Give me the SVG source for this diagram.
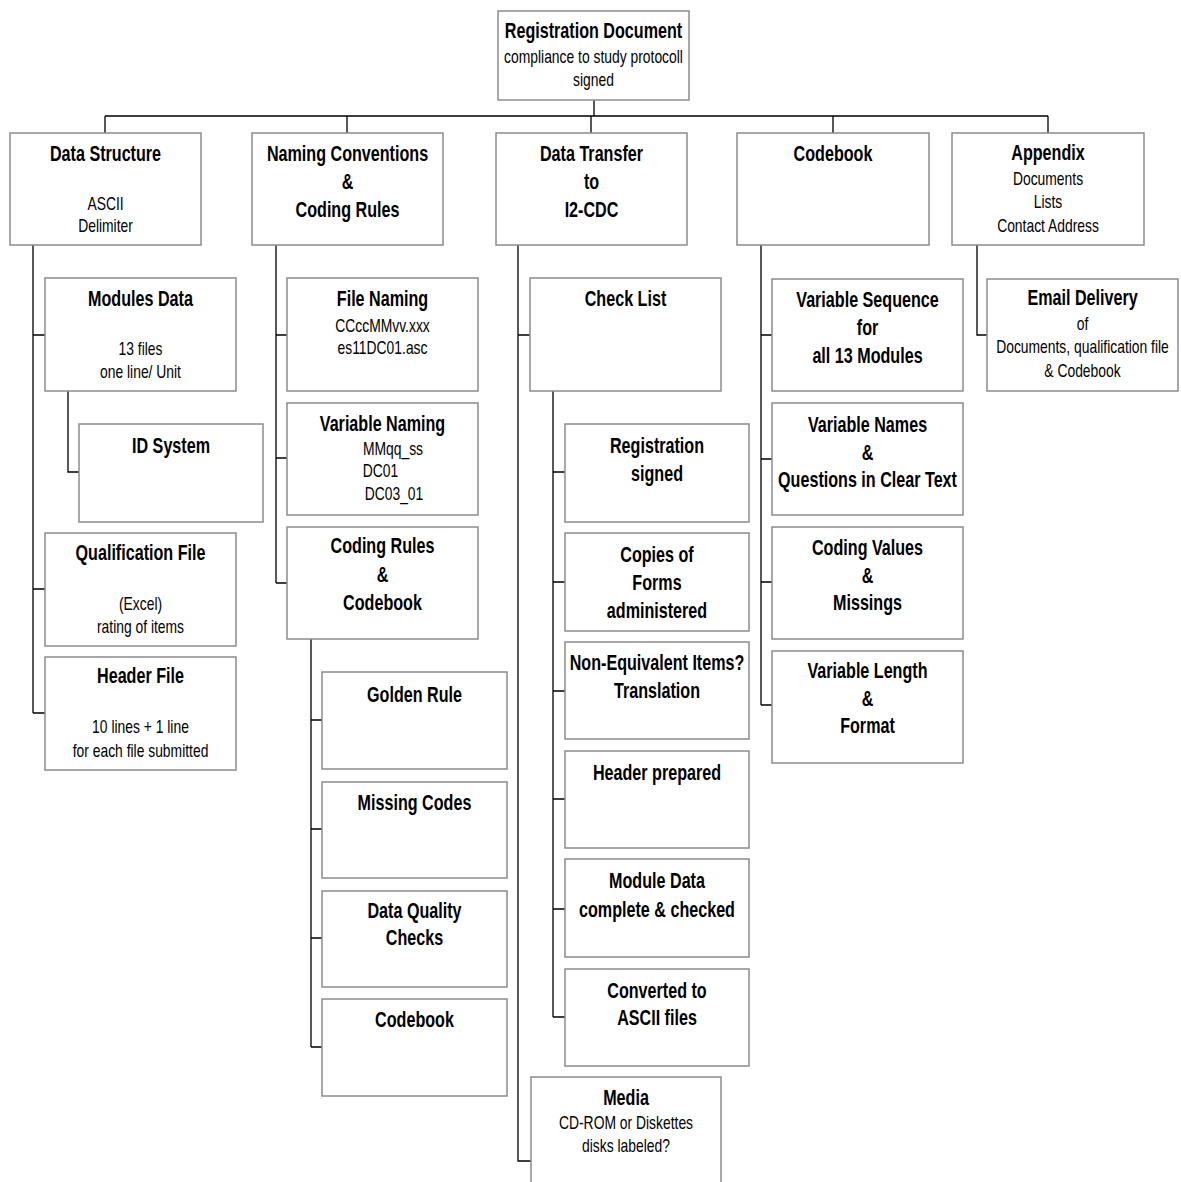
<svg xmlns="http://www.w3.org/2000/svg" width="1181" height="1182" viewBox="0 0 1181 1182">
<style>
.box{fill:#fff;stroke:#8c8c8c;stroke-width:1.5}
.con{fill:none;stroke:#000;stroke-width:1.3}
text{font-family:"Liberation Sans",Arial,sans-serif;text-anchor:middle;fill:#000}
.b{font-weight:bold;font-size:21.5px}
.r{font-weight:normal;font-size:18.5px}
</style>
<rect width="1181" height="1182" fill="#fff"/>
<g id="connectors" class="con">
<path d="M594 100V116M105 116H1048M105 116V133M347 116V133M591 116V133M833 116V133M1048 116V133"/>
<path d="M33 245V713M33 335H45M33 589H45M33 713H45M68 391V472H79"/>
<path d="M276 245V583M276 335H287M276 458H287M276 583H287"/>
<path d="M311 639V1047M311 720H322M311 829H322M311 938H322M311 1047H322"/>
<path d="M518 245V1161H531M518 335H530"/>
<path d="M553 391V1017M553 472H565M553 582H565M553 691H565M553 799H565M553 909H565M553 1017H565"/>
<path d="M761 245V705M761 335H772M761 459H772M761 582H772M761 705H772"/>
<path d="M977 245V335H987"/>
</g>
<g id="registration"><rect class="box" x="498" y="11" width="191" height="89"/><g transform="translate(593.5 0) scale(0.75 1)"><text class="b" x="0" y="38">Registration Document</text><text class="r" x="0" y="63">compliance to study protocoll</text><text class="r" x="0" y="86">signed</text></g></g>
<g id="dataStructure"><rect class="box" x="10" y="133" width="191" height="112"/><g transform="translate(105.5 0) scale(0.75 1)"><text class="b" x="0" y="161">Data Structure</text><text class="r" x="0" y="210">ASCII</text><text class="r" x="0" y="232">Delimiter</text></g></g>
<g id="namingConventions"><rect class="box" x="252" y="133" width="191" height="112"/><g transform="translate(347.5 0) scale(0.75 1)"><text class="b" x="0" y="161">Naming Conventions</text><text class="b" x="0" y="189">&amp;</text><text class="b" x="0" y="217">Coding Rules</text></g></g>
<g id="dataTransfer"><rect class="box" x="496" y="133" width="191" height="112"/><g transform="translate(591.5 0) scale(0.75 1)"><text class="b" x="0" y="161">Data Transfer</text><text class="b" x="0" y="189">to</text><text class="b" x="0" y="217">I2-CDC</text></g></g>
<g id="codebook"><rect class="box" x="737" y="133" width="192" height="112"/><g transform="translate(833 0) scale(0.75 1)"><text class="b" x="0" y="161">Codebook</text></g></g>
<g id="appendix"><rect class="box" x="952" y="133" width="192" height="112"/><g transform="translate(1048 0) scale(0.75 1)"><text class="b" x="0" y="160">Appendix</text><text class="r" x="0" y="185">Documents</text><text class="r" x="0" y="208">Lists</text><text class="r" x="0" y="232">Contact Address</text></g></g>
<g id="modulesData"><rect class="box" x="45" y="278" width="191" height="113"/><g transform="translate(140.5 0) scale(0.75 1)"><text class="b" x="0" y="306">Modules Data</text><text class="r" x="0" y="355">13 files</text><text class="r" x="0" y="378">one line/ Unit</text></g></g>
<g id="idSystem"><rect class="box" x="79" y="424" width="184" height="98"/><g transform="translate(171 0) scale(0.75 1)"><text class="b" x="0" y="453">ID System</text></g></g>
<g id="qualificationFile"><rect class="box" x="45" y="533" width="191" height="113"/><g transform="translate(140.5 0) scale(0.75 1)"><text class="b" x="0" y="560">Qualification File</text><text class="r" x="0" y="610">(Excel)</text><text class="r" x="0" y="633">rating of items</text></g></g>
<g id="headerFile"><rect class="box" x="45" y="657" width="191" height="113"/><g transform="translate(140.5 0) scale(0.75 1)"><text class="b" x="0" y="683">Header File</text><text class="r" x="0" y="733">10 lines + 1 line</text><text class="r" x="0" y="757">for each file submitted</text></g></g>
<g id="fileNaming"><rect class="box" x="287" y="278" width="191" height="113"/><g transform="translate(382.5 0) scale(0.75 1)"><text class="b" x="0" y="306">File Naming</text><text class="r" x="0" y="332">CCccMMvv.xxx</text><text class="r" x="0" y="354">es11DC01.asc</text></g></g>
<g id="variableNaming"><rect class="box" x="287" y="403" width="191" height="112"/><g transform="translate(382.5 0) scale(0.75 1)"><text class="b" x="0" y="431">Variable Naming</text></g><text class="r" transform="translate(393 455) scale(0.75 1)">MMqq_ss</text><text class="r" transform="translate(380.5 477) scale(0.75 1)">DC01</text><text class="r" transform="translate(394 500) scale(0.75 1)">DC03_01</text></g>
<g id="codingRules"><rect class="box" x="287" y="527" width="191" height="112"/><g transform="translate(382.5 0) scale(0.75 1)"><text class="b" x="0" y="553">Coding Rules</text><text class="b" x="0" y="582">&amp;</text><text class="b" x="0" y="610">Codebook</text></g></g>
<g id="goldenRule"><rect class="box" x="322" y="672" width="185" height="97"/><g transform="translate(414.5 0) scale(0.75 1)"><text class="b" x="0" y="702">Golden Rule</text></g></g>
<g id="missingCodes"><rect class="box" x="322" y="782" width="185" height="96"/><g transform="translate(414.5 0) scale(0.75 1)"><text class="b" x="0" y="810">Missing Codes</text></g></g>
<g id="dataQualityChecks"><rect class="box" x="322" y="891" width="185" height="96"/><g transform="translate(414.5 0) scale(0.75 1)"><text class="b" x="0" y="918">Data Quality</text><text class="b" x="0" y="945">Checks</text></g></g>
<g id="codebookRules"><rect class="box" x="322" y="999" width="185" height="97"/><g transform="translate(414.5 0) scale(0.75 1)"><text class="b" x="0" y="1027">Codebook</text></g></g>
<g id="checkList"><rect class="box" x="530" y="278" width="191" height="113"/><g transform="translate(625.5 0) scale(0.75 1)"><text class="b" x="0" y="306">Check List</text></g></g>
<g id="registrationSigned"><rect class="box" x="565" y="424" width="184" height="98"/><g transform="translate(657 0) scale(0.75 1)"><text class="b" x="0" y="453">Registration</text><text class="b" x="0" y="481">signed</text></g></g>
<g id="copiesOfForms"><rect class="box" x="565" y="533" width="184" height="98"/><g transform="translate(657 0) scale(0.75 1)"><text class="b" x="0" y="562">Copies of</text><text class="b" x="0" y="590">Forms</text><text class="b" x="0" y="618">administered</text></g></g>
<g id="nonEquivalent"><rect class="box" x="565" y="642" width="184" height="97"/><g transform="translate(657 0) scale(0.75 1)"><text class="b" x="0" y="670">Non-Equivalent Items?</text><text class="b" x="0" y="698">Translation</text></g></g>
<g id="headerPrepared"><rect class="box" x="565" y="751" width="184" height="97"/><g transform="translate(657 0) scale(0.75 1)"><text class="b" x="0" y="780">Header prepared</text></g></g>
<g id="moduleDataComplete"><rect class="box" x="565" y="859" width="184" height="98"/><g transform="translate(657 0) scale(0.75 1)"><text class="b" x="0" y="888">Module Data</text><text class="b" x="0" y="917">complete &amp; checked</text></g></g>
<g id="convertedAscii"><rect class="box" x="565" y="969" width="184" height="97"/><g transform="translate(657 0) scale(0.75 1)"><text class="b" x="0" y="998">Converted to</text><text class="b" x="0" y="1025">ASCII files</text></g></g>
<g id="media"><rect class="box" x="531" y="1077" width="190" height="115"/><g transform="translate(626 0) scale(0.75 1)"><text class="b" x="0" y="1105">Media</text><text class="r" x="0" y="1129">CD-ROM or Diskettes</text><text class="r" x="0" y="1152">disks labeled?</text></g></g>
<g id="variableSequence"><rect class="box" x="772" y="279" width="191" height="112"/><g transform="translate(867.5 0) scale(0.75 1)"><text class="b" x="0" y="307">Variable Sequence</text><text class="b" x="0" y="335">for</text><text class="b" x="0" y="363">all 13 Modules</text></g></g>
<g id="variableNames"><rect class="box" x="772" y="403" width="191" height="112"/><g transform="translate(867.5 0) scale(0.75 1)"><text class="b" x="0" y="432">Variable Names</text><text class="b" x="0" y="460">&amp;</text><text class="b" x="0" y="487">Questions in Clear Text</text></g></g>
<g id="codingValues"><rect class="box" x="772" y="527" width="191" height="112"/><g transform="translate(867.5 0) scale(0.75 1)"><text class="b" x="0" y="555">Coding Values</text><text class="b" x="0" y="583">&amp;</text><text class="b" x="0" y="610">Missings</text></g></g>
<g id="variableLength"><rect class="box" x="772" y="651" width="191" height="112"/><g transform="translate(867.5 0) scale(0.75 1)"><text class="b" x="0" y="678">Variable Length</text><text class="b" x="0" y="706">&amp;</text><text class="b" x="0" y="733">Format</text></g></g>
<g id="emailDelivery"><rect class="box" x="987" y="279" width="191" height="112"/><g transform="translate(1082.5 0) scale(0.75 1)"><text class="b" x="0" y="305">Email Delivery</text><text class="r" x="0" y="330">of</text><text class="r" x="0" y="353">Documents, qualification file</text><text class="r" x="0" y="377">&amp; Codebook</text></g></g>
</svg>
